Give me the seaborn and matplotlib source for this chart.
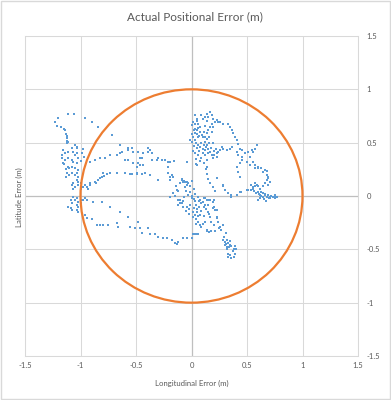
import numpy as np
import pandas as pd
import matplotlib
matplotlib.use("Agg")
import matplotlib.pyplot as plt
from matplotlib.patches import Circle, Rectangle
import seaborn as sns

# ---------------- data (metres) ----------------
title = "Actual Positional Error (m)"
x_label = "Longitudinal Error (m)"
y_label = "Latitude Error (m)"
tick_values = [-1.5, -1, -0.5, 0, 0.5, 1, 1.5]
tick_labels = ["-1.5", "-1", "-0.5", "0", "0.5", "1", "1.5"]
circle_radius = 1.0

nw_arc_x = [-1.20, -1.23, -1.21, -1.18, -1.15, -1.14, -1.11, -1.06, -0.96, -0.90, -0.84, -0.72, -0.64,
            -1.12, -1.12, -1.12, -1.12, -1.13]
nw_arc_y = [0.73, 0.69, 0.66, 0.65, 0.63, 0.62, 0.77, 0.77, 0.73, 0.69, 0.65, 0.57, 0.48,
            0.56, 0.54, 0.52, 0.50, 0.58]

west_x = [-1.12, -1.12, -1.12, -1.11, -1.05, -1.03, -1.03, -1.16, -1.14, -1.11, -1.08, -1.07, -1.05, -1.03,
          -1.02, -1.17, -1.17, -1.14, -1.11, -1.08, -1.07, -1.03, -1.16, -1.11, -1.10, -1.08, -1.05, -1.02,
          -1.03, -1.08, -1.05, -1.02, -1.03, -1.02, -1.07, -1.00, -1.15, -1.13, -1.12, -1.10, -1.13, -0.98,
          -0.99, -0.97, -1.00]
west_y = [0.55, 0.54, 0.52, 0.51, 0.48, 0.46, 0.45, 0.43, 0.40, 0.41, 0.45, 0.41, 0.38, 0.40,
          0.36, 0.38, 0.36, 0.34, 0.36, 0.34, 0.32, 0.31, 0.31, 0.27, 0.26, 0.27, 0.26, 0.24,
          0.22, 0.22, 0.20, 0.18, 0.15, 0.13, 0.12, 0.12, 0.30, 0.25, 0.22, 0.20, 0.18, 0.44,
          0.40, 0.37, 0.33]

west_low_x = [-1.08, -1.07, -1.05, -1.02, -1.00, -0.98, -0.96, -0.94, -0.93, -0.91,
              -1.07, -1.05, -1.03, -1.02, -1.09, -1.08, -1.11, -1.09, -1.08, -1.03, -1.02, -1.00, -0.99,
              -0.98, -0.96, -0.94, -1.03, -1.02,
              -0.89, -0.81, -0.73, -0.64, -0.57, -0.96, -0.94, -0.90, -0.85, -0.82, -0.80, -0.75, -0.67, -0.66]
west_low_y = [0.10, 0.07, 0.08, 0.10, 0.07, 0.08, 0.10, 0.08, 0.07, 0.10,
              -0.01, -0.04, -0.02, -0.06, -0.04, -0.07, -0.10, -0.11, -0.13, -0.08, -0.10, -0.07, -0.04,
              -0.04, -0.02, -0.04, -0.13, -0.15,
              -0.06, -0.06, -0.10, -0.15, -0.20, -0.18, -0.21, -0.22, -0.27, -0.27, -0.27, -0.27, -0.25, -0.29]

south_arc_x = [-0.55, -0.51, -0.48, -0.45, -0.46, -0.39, -0.37, -0.33, -0.30, -0.26, -0.22, -0.18, -0.15,
               -0.13, -0.12, -0.08, -0.04, 0.00, 0.01, 0.03, 0.05, 0.06]
south_arc_y = [-0.29, -0.30, -0.24, -0.35, -0.30, -0.30, -0.36, -0.36, -0.38, -0.39, -0.39, -0.41, -0.44,
               -0.45, -0.43, -0.39, -0.39, -0.39, -0.36, -0.36, -0.36, -0.36]

mid_band_x = [-0.91, -0.87, -0.82, -0.78, -0.73, -0.67, -0.64, -0.63, -0.57, -0.53, -0.48, -0.44, -0.39, -0.37,
              -0.36, -0.31, -0.27, -0.24, -0.21, -0.21, -0.21, -0.19,
              -0.80, -0.73, -0.67, -0.60, -0.55, -0.49, -0.46, -0.44,
              -0.57, -0.54, -0.46, -0.45, -0.39, -0.36, -0.30, -0.18, -0.17, -0.19, -0.09, -0.08, -0.06, -0.04,
              -0.60, -0.57, -0.53, -0.48, -0.49, -0.54, -0.49, -0.45, -0.42, -0.37, -0.30,
              -0.91, -0.87, -0.84, -0.82, -0.81, -0.86, -0.79, -0.76,
              -0.19, -0.17, -0.13, -0.12, -0.10, -0.08, -0.04, -0.19, -0.16]
mid_band_y = [0.32, 0.34, 0.36, 0.36, 0.38, 0.38, 0.40, 0.41, 0.43, 0.41, 0.41, 0.40, 0.41, 0.43,
              0.34, 0.34, 0.34, 0.34, 0.32, 0.27, 0.22, 0.18,
              0.22, 0.22, 0.22, 0.22, 0.21, 0.22, 0.29, 0.29,
              0.45, 0.45, 0.36, 0.36, 0.45, 0.40, 0.36, 0.20, 0.18, 0.15, 0.15, 0.13, 0.13, 0.13,
              0.34, 0.34, 0.31, 0.31, 0.27, 0.21, 0.21, 0.21, 0.22, 0.20, 0.15,
              0.12, 0.13, 0.15, 0.17, 0.18, 0.12, 0.19, 0.21,
              -0.01, 0.03, 0.06, -0.04, -0.07, -0.10, 0.32, 0.32, 0.33]

center_x = [-0.09, -0.07, -0.06, -0.10, -0.04, -0.01, 0.02, -0.01, 0.03, 0.06, 0.08, 0.11, 0.14, 0.17, 0.20,
            0.09, 0.12, 0.15, 0.20, 0.23, -0.07, -0.10, -0.09, -0.12, -0.04, -0.01, 0.02, 0.05, 0.08, 0.11,
            0.06, 0.08, 0.09, 0.14, 0.18, 0.21, 0.23, 0.24, 0.26, 0.27, 0.29, 0.30, 0.33, 0.35, 0.36, 0.38,
            0.32, 0.33, 0.35, 0.38, 0.39, 0.31, 0.34, 0.37, 0.40, 0.36, 0.33, 0.39, 0.32, 0.35,
            0.12, 0.15, 0.19, 0.19, 0.21, 0.15, 0.17, 0.23, 0.28, 0.25, 0.31, 0.14, 0.16, 0.28, 0.30, 0.32,
            -0.14, -0.12, -0.15, -0.05, -0.03, 0.00, 0.03, -0.05, -0.02, 0.01, 0.04, 0.06, 0.09, 0.11, 0.05,
            -0.08, 0.12, 0.10, 0.04,
            0.00, 0.02, 0.04, 0.07, 0.10, 0.13, 0.07, -0.02, 0.01, 0.03, -0.06, -0.03, 0.00, 0.16, 0.18, 0.20]
center_y = [0.16, 0.14, 0.13, 0.12, 0.10, 0.09, 0.07, 0.04, 0.02, -0.01, -0.04, -0.02, -0.04, -0.04, -0.04,
            -0.07, -0.08, -0.08, -0.10, -0.13, -0.01, -0.04, -0.07, -0.08, -0.10, -0.08, -0.11, -0.15, -0.18, -0.19,
            -0.24, -0.27, -0.29, -0.33, -0.33, -0.33, -0.21, -0.24, -0.29, -0.32, -0.38, -0.43, -0.44, -0.46, -0.47, -0.50,
            -0.50, -0.54, -0.55, -0.57, -0.54, -0.45, -0.48, -0.52, -0.50, -0.58, -0.57, -0.47, -0.41, -0.42,
            -0.02, -0.04, -0.06, -0.11, -0.13, -0.15, -0.20, -0.20, -0.27, -0.30, -0.35, -0.32, -0.34, -0.41, -0.46, -0.48,
            0.09, 0.05, 0.00, 0.05, 0.01, -0.02, -0.05, -0.14, -0.17, -0.20, -0.22, -0.19, -0.14, -0.10, -0.12,
            -0.05, -0.24, -0.26, -0.26,
            0.00, -0.03, -0.08, -0.05, -0.06, -0.12, -0.10, -0.12, -0.15, -0.18, 0.08, 0.12, 0.14, -0.17, -0.24, -0.27]

north_x = [0.031, 0.047, 0.017, 0.000, 0.031, 0.062, 0.077, 0.047, 0.031, 0.017, -0.014, 0.000, 0.031, 0.062,
           0.092, 0.122, 0.137, 0.152, 0.167, 0.182, 0.152, 0.137, 0.167, 0.182, 0.197, 0.212, 0.227, 0.242,
           0.197, 0.182, 0.137, 0.122, 0.137, 0.152, 0.167, 0.122, 0.107, 0.182, 0.197, 0.227, 0.257, 0.272,
           0.287, 0.317, 0.347, 0.362, 0.257, 0.287, 0.332, 0.347, 0.362, 0.377, 0.392, 0.407, 0.422, 0.437,
           0.452, 0.407, 0.422, 0.452, 0.482, 0.512, 0.542, 0.572, 0.587, 0.557, 0.527, 0.497, 0.452, 0.437,
           0.407, 0.422, 0.437, 0.527, 0.572, 0.602, 0.647, 0.677, 0.692, 0.707, 0.692,
           0.04, 0.06, 0.08, 0.10, 0.07, 0.05, 0.09, 0.11, 0.13, 0.03, 0.06, 0.09, 0.12, 0.15, 0.04, 0.08,
           0.11, 0.14, 0.02, 0.10, 0.08, 0.06, 0.12, 0.14, 0.10, 0.05, 0.02, 0.18, 0.20, 0.22, 0.24, 0.05,
           0.09, 0.12, 0.13, 0.14, 0.15, 0.17, 0.19, 0.21,
           -0.19, -0.16, -0.04, 0.05, 0.14, 0.23, 0.28, 0.30,
           0.00, 0.03, 0.07, 0.11, 0.16, 0.19, 0.16, 0.20, 0.23, 0.01, 0.04]
north_y = [0.757, 0.726, 0.695, 0.664, 0.679, 0.679, 0.648, 0.617, 0.586, 0.555, 0.523, 0.508, 0.523, 0.555,
           0.570, 0.555, 0.586, 0.617, 0.648, 0.679, 0.742, 0.773, 0.788, 0.757, 0.726, 0.695, 0.710, 0.695,
           0.648, 0.602, 0.539, 0.508, 0.477, 0.445, 0.414, 0.430, 0.399, 0.383, 0.352, 0.399, 0.430, 0.461,
           0.445, 0.430, 0.445, 0.461, 0.695, 0.679, 0.679, 0.648, 0.617, 0.586, 0.555, 0.523, 0.492, 0.445,
           0.430, 0.414, 0.383, 0.368, 0.399, 0.414, 0.430, 0.445, 0.477, 0.414, 0.368, 0.321, 0.336, 0.305,
           0.274, 0.227, 0.180, 0.290, 0.259, 0.259, 0.227, 0.196, 0.165, 0.134, 0.103,
           0.50, 0.48, 0.46, 0.44, 0.42, 0.45, 0.50, 0.48, 0.46, 0.40, 0.38, 0.36, 0.38, 0.40, 0.35, 0.33,
           0.31, 0.34, 0.47, 0.55, 0.60, 0.64, 0.66, 0.70, 0.72, 0.58, 0.62, 0.45, 0.42, 0.44, 0.41, 0.70,
           0.76, 0.74, 0.25, 0.21, 0.16, 0.12, 0.08, 0.05,
           0.32, 0.33, 0.32, 0.29, 0.27, 0.17, 0.09, 0.06,
           0.58, 0.63, 0.56, 0.60, 0.55, 0.50, 0.50, 0.38, 0.37, 0.42, 0.30]

east_x = [0.36, 0.41, 0.45, 0.50, 0.54, 0.55, 0.57, 0.59, 0.62, 0.63, 0.64, 0.66, 0.68, 0.71, 0.73, 0.77,
          0.60, 0.54, 0.57, 0.60, 0.64, 0.66, 0.68, 0.69, 0.68, 0.66, 0.63, 0.60, 0.57, 0.55,
          0.56, 0.58, 0.61, 0.63, 0.66, 0.69, 0.72, 0.75, 0.75, 0.62, 0.65, 0.67, 0.70,
          0.28, 0.33, 0.36, 0.44, 0.51, 0.55, 0.60, 0.62, 0.64, 0.71, 0.75]
east_y = [-0.01, 0.01, 0.04, 0.06, 0.06, 0.07, 0.09, 0.10, 0.07, 0.04, 0.03, 0.01, -0.01, -0.01, -0.01, -0.01,
          -0.04, 0.10, 0.12, 0.09, 0.09, 0.12, 0.15, 0.18, 0.23, 0.24, 0.26, 0.27, 0.29, 0.32,
          0.05, 0.03, 0.02, 0.00, 0.02, 0.01, 0.00, -0.01, 0.01, -0.02, -0.03, -0.05, -0.02,
          0.10, 0.03, 0.01, 0.04, 0.06, 0.08, 0.04, 0.01, -0.01, -0.02, -0.02]

lon = nw_arc_x + west_x + west_low_x + south_arc_x + mid_band_x + center_x + north_x + east_x
lat = nw_arc_y + west_y + west_low_y + south_arc_y + mid_band_y + center_y + north_y + east_y
df = pd.DataFrame({"lon": lon, "lat": lat})

# ---------------- styling ----------------
sns.set_style("white")
plt.rcParams['font.family'] = ['Lato', 'DejaVu Sans']
text_color = "#595959"
grid_color = "#D9D9D9"

fig = plt.figure(figsize=(3.91, 4.0), dpi=100)
ax = fig.add_axes([25 / 391, 44 / 400, 333 / 391, 320 / 400])

ax.grid(True, color=grid_color, lw=0.75)
ax.set_axisbelow(True)
ax.axhline(0, color="#BFBFBF", lw=0.9, zorder=1)
ax.axvline(0, color="#BFBFBF", lw=0.9, zorder=1)

sns.scatterplot(data=df, x="lon", y="lat", ax=ax, marker="s", s=4,
                color="#5B9BD5", linewidth=0, zorder=3, legend=False)

ax.add_patch(Circle((0, 0), circle_radius, fill=False, edgecolor="#ED7D31", lw=1.6, zorder=4))

ax.set_xlim(tick_values[0], tick_values[-1])
ax.set_ylim(tick_values[0], tick_values[-1])
ax.set_xticks(tick_values, tick_labels)
ax.set_yticks(tick_values, tick_labels)
ax.yaxis.tick_right()
ax.tick_params(axis="x", length=0, labelsize=5.5, colors=text_color, pad=4)
ax.tick_params(axis="y", length=0, labelsize=5.5, colors=text_color, pad=6)
for s in ax.spines.values():
    s.set_color(grid_color)
    s.set_linewidth(0.75)
ax.set_xlabel("")
ax.set_ylabel("")

fig.text(195 / 391, 1 - 17 / 400, title, ha="center", va="center", fontsize=8.5, color=text_color)
fig.text(192 / 391, 1 - 383 / 400, x_label, ha="center", va="center", fontsize=5.6, color=text_color)
fig.text(19 / 391, 1 - 197 / 400, y_label, ha="center", va="center", rotation=90, fontsize=5.6,
         color=text_color)

fig.add_artist(Rectangle((0.002, 0.002), 0.996, 0.996, transform=fig.transFigure, fill=False,
                         edgecolor=grid_color, lw=1))

fig.savefig("out.png", dpi=100)
